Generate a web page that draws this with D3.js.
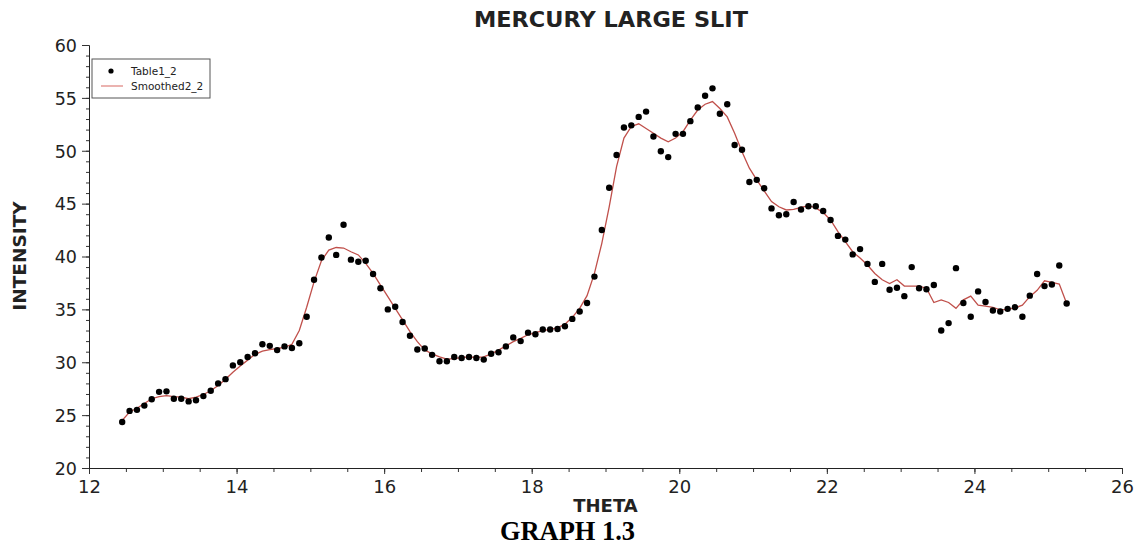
<!DOCTYPE html>
<html>
<head>
<meta charset="utf-8">
<script src="https://cdn.jsdelivr.net/npm/d3@7"></script>
<style>
  body { margin: 0; background: #fff; }
  text { font-family: "DejaVu Sans", sans-serif; fill: #222; }
</style>
</head>
<body>
<div id="chart"></div>
<script>
// theta values (x)
const theta = [12.45, 12.55, 12.65, 12.75, 12.85, 12.95, 13.05, 13.15, 13.25, 13.35,
  13.45, 13.55, 13.65, 13.75, 13.85, 13.95, 14.05, 14.15, 14.25, 14.35,
  14.45, 14.55, 14.65, 14.75, 14.85, 14.95, 15.05, 15.15, 15.25, 15.35,
  15.45, 15.55, 15.65, 15.75, 15.85, 15.95, 16.05, 16.15, 16.25, 16.35,
  16.45, 16.55, 16.65, 16.75, 16.85, 16.95, 17.05, 17.15, 17.25, 17.35,
  17.45, 17.55, 17.65, 17.75, 17.85, 17.95, 18.05, 18.15, 18.25, 18.35,
  18.45, 18.55, 18.65, 18.75, 18.85, 18.95, 19.05, 19.15, 19.25, 19.35,
  19.45, 19.55, 19.65, 19.75, 19.85, 19.95, 20.05, 20.15, 20.25, 20.35,
  20.45, 20.55, 20.65, 20.75, 20.85, 20.95, 21.05, 21.15, 21.25, 21.35,
  21.45, 21.55, 21.65, 21.75, 21.85, 21.95, 22.05, 22.15, 22.25, 22.35,
  22.45, 22.55, 22.65, 22.75, 22.85, 22.95, 23.05, 23.15, 23.25, 23.35,
  23.45, 23.55, 23.65, 23.75, 23.85, 23.95, 24.05, 24.15, 24.25, 24.35,
  24.45, 24.55, 24.65, 24.75, 24.85, 24.95, 25.05, 25.15, 25.25];

// measured intensity (Table1_2)
const table1 = [24.35, 25.4, 25.5, 25.9, 26.5, 27.2, 27.25, 26.55, 26.55, 26.3,
  26.4, 26.8, 27.3, 28.0, 28.4, 29.7, 30.0, 30.5, 30.85, 31.7,
  31.55, 31.15, 31.5, 31.35, 31.8, 34.3, 37.8, 39.9, 41.8, 40.15,
  43.0, 39.7, 39.5, 39.6, 38.35, 37.0, 35.0, 35.25, 33.8, 32.5,
  31.2, 31.3, 30.7, 30.1, 30.1, 30.5, 30.4, 30.5, 30.4, 30.25,
  30.8, 30.95, 31.5, 32.35, 32.0, 32.8, 32.65, 33.1, 33.1, 33.15,
  33.4, 34.1, 34.8, 35.6, 38.1, 42.5, 46.5, 49.6, 52.2, 52.4,
  53.2, 53.7, 51.35, 49.95, 49.4, 51.6, 51.6, 52.8, 54.1, 55.2,
  55.9, 53.5, 54.4, 50.55, 50.1, 47.05, 47.25, 46.45, 44.55, 43.9,
  44.0, 45.15, 44.45, 44.75, 44.75, 44.3, 43.45, 41.95, 41.6, 40.2,
  40.7, 39.3, 37.6, 39.3, 36.85, 37.05, 36.25, 39.0, 37.0, 36.9,
  37.3, 33.0, 33.7, 38.9, 35.6, 34.3, 36.7, 35.7, 34.9, 34.8,
  35.05, 35.2, 34.3, 36.3, 38.35, 37.2, 37.35, 39.15, 35.55];

// smoothed curve (Smoothed2_2)
const smoothed = [24.5, 25.3, 25.65, 26.1, 26.55, 26.75, 26.85, 26.75, 26.7, 26.55,
  26.7, 26.95, 27.3, 27.8, 28.4, 29.05, 29.65, 30.2, 30.75, 31.05,
  31.2, 31.3, 31.4, 31.7, 33.0, 35.2, 37.6, 39.6, 40.6, 40.85,
  40.8, 40.45, 40.15, 39.35, 38.4, 37.3, 36.2, 35.1, 34.0, 32.9,
  31.95, 31.15, 30.8, 30.5, 30.3, 30.35, 30.45, 30.5, 30.45, 30.5,
  30.8, 31.15, 31.55, 31.95, 32.25, 32.6, 32.8, 33.0, 33.1, 33.25,
  33.6, 34.25, 35.1, 36.3, 38.4, 41.25, 44.7, 48.5, 51.2, 52.3,
  52.55, 52.1, 51.65, 51.2, 50.85, 51.2, 51.8, 52.9, 53.85, 54.4,
  54.65, 54.0, 53.2, 51.65, 49.9, 48.35, 47.25, 46.2, 45.2, 44.7,
  44.4, 44.45, 44.65, 44.8, 44.6, 44.15, 43.45, 42.35, 41.4, 40.45,
  39.85, 39.2, 38.4, 37.8, 37.45, 37.8, 37.2, 37.2, 37.2, 37.0,
  35.65, 35.9, 35.65, 35.1, 35.9, 36.25, 35.4, 35.3, 35.2, 34.95,
  35.0, 35.15, 35.4, 36.2, 36.8, 37.7, 37.55, 37.4, 35.55];

const xTicks = [12, 14, 16, 18, 20, 22, 24, 26];
const yTicks = [20, 25, 30, 35, 40, 45, 50, 55, 60];

// Set up dimensions and margins
const W = 1140, H = 546;
const margin = {top: 45, right: 18, bottom: 78, left: 89};
const width = W - margin.left - margin.right;
const height = H - margin.top - margin.bottom;

const root = d3.select("#chart")
    .append("svg")
    .attr("width", W)
    .attr("height", H);

const svg = root.append("g")
    .attr("transform", `translate(${margin.left}, ${margin.top})`);

// Scales
const x = d3.scaleLinear().domain([12, 26]).range([0, width]);
const y = d3.scaleLinear().domain([20, 60]).range([height, 0]);

// minor ticks first (no labels)
svg.append("g")
    .attr("transform", `translate(0, ${height})`)
    .call(d3.axisBottom(x).tickValues(d3.range(12, 26.01, 0.5)).tickSize(4).tickFormat(""))
    .call(g => g.select(".domain").remove());
svg.append("g")
    .call(d3.axisLeft(y).tickValues(d3.range(20, 60.01, 1)).tickSize(3).tickFormat(""))
    .call(g => g.select(".domain").remove());

// main axes
const xAxis = svg.append("g")
    .attr("transform", `translate(0, ${height})`)
    .call(d3.axisBottom(x).tickValues(xTicks).tickSize(6).tickPadding(6));
xAxis.selectAll("text")
    .style("font-size", "18px");

const yAxis = svg.append("g")
    .call(d3.axisLeft(y).tickValues(yTicks).tickSize(7).tickPadding(5));
yAxis.selectAll("text")
    .style("font-size", "17.5px")
    .attr("dy", "0.36em");

svg.selectAll(".domain").attr("stroke", "#222");
svg.selectAll(".tick line").attr("stroke", "#333");

// smoothed line
const line = d3.line()
    .x((d, i) => x(theta[i]))
    .y(d => y(d));

svg.append("path")
    .datum(smoothed)
    .attr("fill", "none")
    .attr("stroke", "#c0504b")
    .attr("stroke-width", 1.3)
    .attr("d", line);

// points
svg.selectAll(".pt")
    .data(table1)
    .enter()
    .append("circle")
    .attr("class", "pt")
    .attr("cx", (d, i) => x(theta[i]))
    .attr("cy", d => y(d))
    .attr("r", 3.2)
    .attr("fill", "#000");

// Legend
const legend = svg.append("g")
    .attr("transform", "translate(3, 14)");
legend.append("rect")
    .attr("width", 118)
    .attr("height", 39)
    .attr("fill", "#fff")
    .attr("stroke", "#555")
    .attr("stroke-width", 1);
legend.append("circle")
    .attr("cx", 19).attr("cy", 12).attr("r", 2.6).attr("fill", "#000");
legend.append("text")
    .attr("x", 39).attr("y", 15.5)
    .style("font-size", "10.5px")
    .text("Table1_2");
legend.append("line")
    .attr("x1", 9).attr("x2", 31).attr("y1", 27).attr("y2", 27)
    .attr("stroke", "#e08a86").attr("stroke-width", 1.3);
legend.append("text")
    .attr("x", 39).attr("y", 31)
    .style("font-size", "10.5px")
    .text("Smoothed2_2");

// Titles
root.append("text")
    .attr("x", 611).attr("y", 27)
    .attr("text-anchor", "middle")
    .attr("textLength", 274)
    .attr("lengthAdjust", "spacingAndGlyphs")
    .style("font-size", "21px")
    .style("font-weight", "bold")
    .text("MERCURY LARGE SLIT");

root.append("text")
    .attr("x", 605.5).attr("y", 512)
    .attr("text-anchor", "middle")
    .style("font-size", "18px")
    .style("font-weight", "bold")
    .text("THETA");

root.append("text")
    .attr("transform", "translate(26, 256) rotate(-90)")
    .attr("text-anchor", "middle")
    .style("font-size", "18.5px")
    .style("font-weight", "bold")
    .text("INTENSITY");

root.append("text")
    .attr("x", 500).attr("y", 540)
    .attr("textLength", 135)
    .attr("lengthAdjust", "spacingAndGlyphs")
    .style("font-family", "'Liberation Serif', 'Times New Roman', serif")
    .style("font-size", "27px")
    .style("font-weight", "bold")
    .style("fill", "#000")
    .text("GRAPH 1.3");
</script>
</body>
</html>
